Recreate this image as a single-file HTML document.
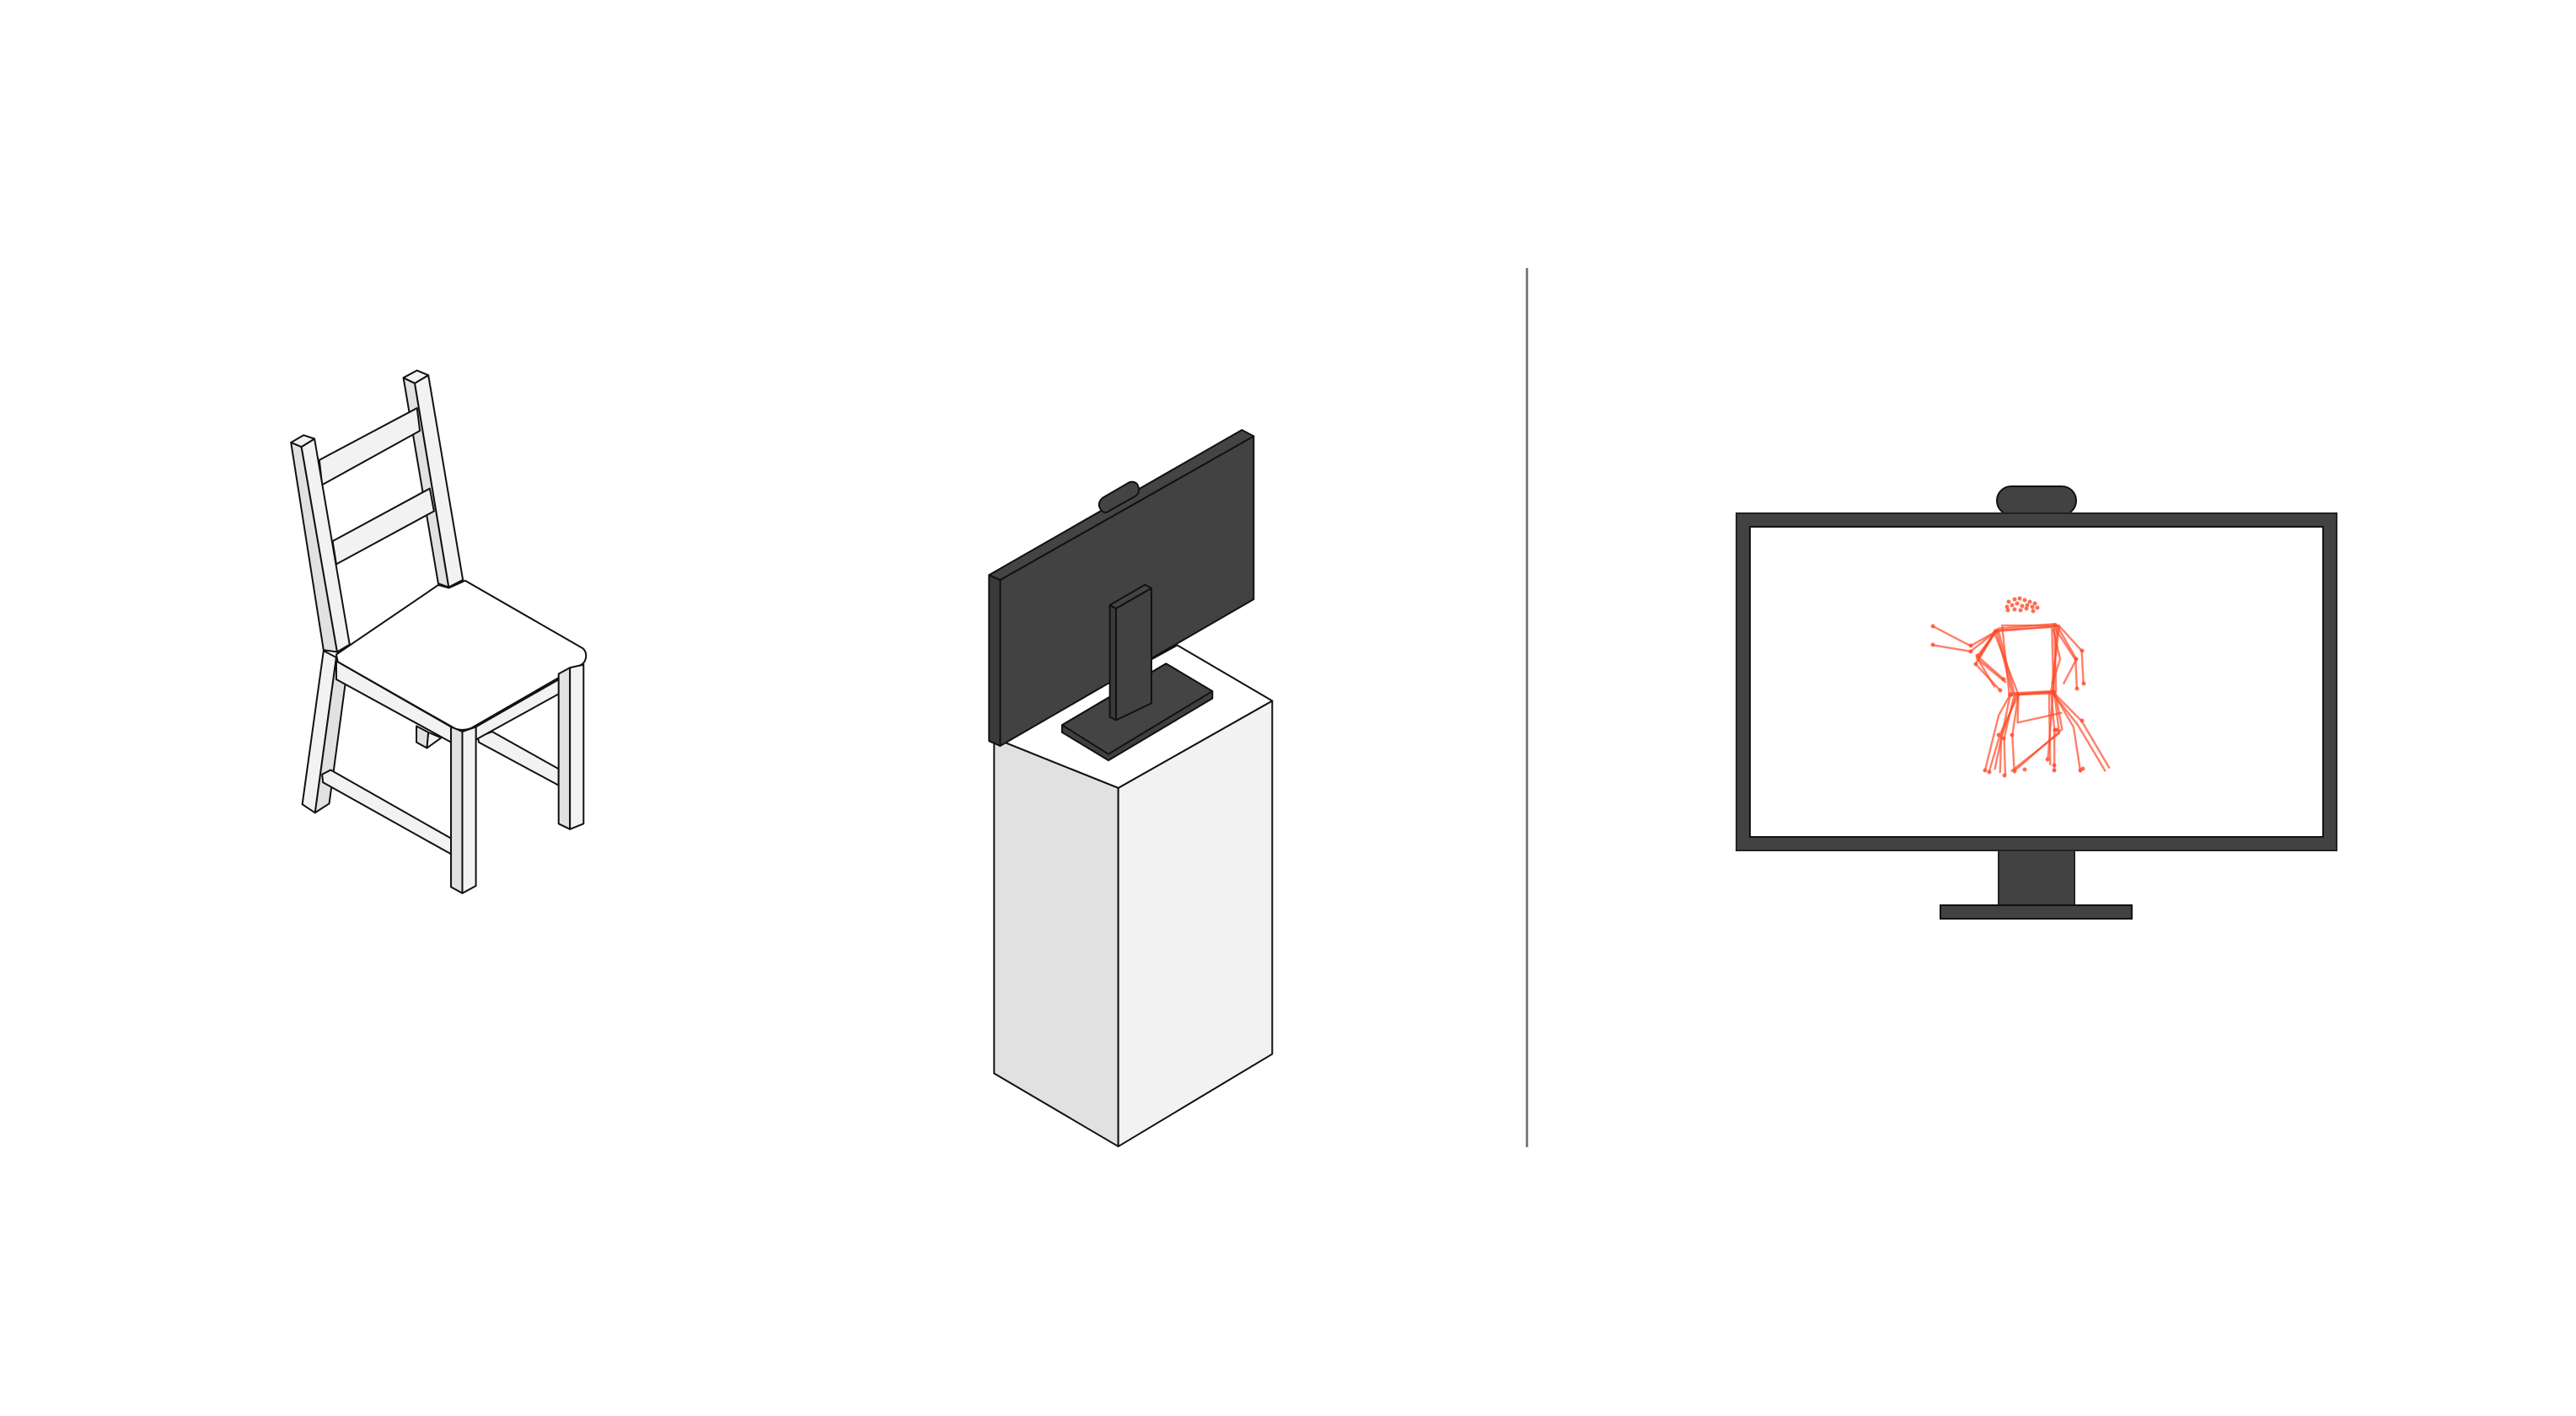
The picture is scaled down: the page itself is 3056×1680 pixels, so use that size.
<!DOCTYPE html>
<html><head><meta charset="utf-8"><style>
html,body{margin:0;padding:0;background:#fff;}
svg{display:block;}
</style></head><body>
<svg width="3056" height="1680" viewBox="0 0 3056 1680" xmlns="http://www.w3.org/2000/svg">
<rect width="3056" height="1680" fill="#fff"/>
<rect x="1810" y="318" width="3" height="1043" fill="#808080"/>

<!-- Chair -->
<g transform="translate(320,420) scale(0.336,0.4337)" stroke="#111" stroke-width="2" stroke-linejoin="round">
 <polygon points="518,1018 560,1035 555,1078 518,1062" fill="#e1e1e1" vector-effect="non-scaling-stroke"/>
 <polygon points="560,1035 605,1050 555,1078" fill="#f2f2f2" vector-effect="non-scaling-stroke"/>
 <polygon points="735,1048 785,1033 1020,1135 1020,1180 738,1062" fill="#f2f2f2" vector-effect="non-scaling-stroke"/>
 <polygon points="472,65 512,80 632,638 595,628" fill="#e1e1e1" vector-effect="non-scaling-stroke"/>
 <polygon points="512,80 560,58 682,618 632,638" fill="#f2f2f2" vector-effect="non-scaling-stroke"/>
 <polygon points="472,65 520,45 560,58 512,80" fill="#f2f2f2" vector-effect="non-scaling-stroke"/>
 <polygon points="175,290 520,148 530,210 185,358" fill="#f2f2f2" vector-effect="non-scaling-stroke"/>
 <polygon points="222,512 565,368 580,430 235,575" fill="#f2f2f2" vector-effect="non-scaling-stroke"/>
 <polygon points="75,242 112,254 238,815 190,810" fill="#e1e1e1" vector-effect="non-scaling-stroke"/>
 <polygon points="112,254 158,232 282,795 238,815" fill="#f2f2f2" vector-effect="non-scaling-stroke"/>
 <polygon points="75,242 120,222 158,232 112,254" fill="#f2f2f2" vector-effect="non-scaling-stroke"/>
 <polygon points="190,812 235,830 160,1255 115,1232" fill="#f2f2f2" vector-effect="non-scaling-stroke"/>
 <polygon points="235,830 268,895 210,1230 160,1255" fill="#e1e1e1" vector-effect="non-scaling-stroke"/>
 <polygon points="185,1150 215,1138 640,1325 640,1368 188,1172" fill="#f2f2f2" vector-effect="non-scaling-stroke"/>
 <polygon points="235,840 640,1020 640,1062 235,890" fill="#f2f2f2" vector-effect="non-scaling-stroke"/>
 <polygon points="728,1020 1055,875 1055,915 728,1055" fill="#f2f2f2" vector-effect="non-scaling-stroke"/>
 <path d="M235,822 L595,632 L632,640 L690,620 L1105,805 Q1120,815 1116,832 Q1112,845 1100,850 L710,1024 Q680,1032 655,1025 L240,842 Z" fill="#fff" vector-effect="non-scaling-stroke"/>
 <polygon points="640,1020 680,1033 680,1475 640,1458" fill="#e1e1e1" vector-effect="non-scaling-stroke"/>
 <polygon points="680,1033 728,1020 728,1455 680,1475" fill="#f2f2f2" vector-effect="non-scaling-stroke"/>
 <polygon points="1020,875 1060,858 1060,1300 1020,1285" fill="#e1e1e1" vector-effect="non-scaling-stroke"/>
 <polygon points="1060,858 1108,850 1108,1285 1060,1300" fill="#f2f2f2" vector-effect="non-scaling-stroke"/>
</g>

<!-- Pedestal + monitor -->
<g transform="translate(1150,490) scale(0.3333,0.574)" stroke="#111" stroke-linejoin="round">
 <polygon points="88,672 530,775 530,1516 88,1365" fill="#e1e1e1" stroke-width="2" vector-effect="non-scaling-stroke"/>
 <polygon points="530,775 1078,595 1078,1325 530,1516" fill="#f2f2f2" stroke-width="2" vector-effect="non-scaling-stroke"/>
 <polygon points="88,672 530,775 1078,595 740,480 300,620" fill="#fff" stroke-width="2" vector-effect="non-scaling-stroke"/>
 <polygon points="330,645 700,518 865,575 865,590 495,718 330,660" fill="#404040" stroke-width="2" vector-effect="non-scaling-stroke"/>
 <polygon points="330,645 700,518 865,575 495,705" fill="#444" stroke-width="2" vector-effect="non-scaling-stroke"/>
 <polygon points="70,335 110,345 110,688 70,678" fill="#3a3a3a" stroke-width="2" vector-effect="non-scaling-stroke"/>
 <polygon points="110,345 1012,48 1012,385 110,688" fill="#424242" stroke-width="2" vector-effect="non-scaling-stroke"/>
 <polygon points="70,335 970,35 1012,48 110,345" fill="#444" stroke-width="2" vector-effect="non-scaling-stroke"/>
 <path d="M490,205 L590,172 Q610,165 600,150 Q592,140 570,143 L475,175 Q455,185 465,197 Q475,208 490,205 Z" fill="#444" stroke-width="2" vector-effect="non-scaling-stroke"/>
 <polygon points="500,397 522,404 522,635 500,628" fill="#3a3a3a" stroke-width="2" vector-effect="non-scaling-stroke"/>
 <polygon points="522,404 648,362 648,600 522,635" fill="#424242" stroke-width="2" vector-effect="non-scaling-stroke"/>
 <polygon points="500,397 625,355 648,362 522,404" fill="#444" stroke-width="2" vector-effect="non-scaling-stroke"/>
</g>

<!-- Right monitor -->
<rect x="2369" y="577" width="94" height="34" rx="17" fill="#424242" stroke="#111" stroke-width="2"/>
<rect x="2060" y="609" width="712" height="400" fill="#424242" stroke="#222" stroke-width="2"/>
<rect x="2076" y="625" width="680" height="368" fill="#fff" stroke="#111" stroke-width="2"/>
<rect x="2371" y="1009" width="90" height="65" fill="#424242" stroke="#222" stroke-width="2"/>
<rect x="2302" y="1074" width="227" height="16" fill="#424242" stroke="#111" stroke-width="2"/>

<!-- skeleton -->
<g transform="translate(2060,560) scale(0.4848,0.357)" fill="none" stroke="#ff4a2a" stroke-opacity="0.7" stroke-width="2.4" stroke-linejoin="round">
 <polygon points="630,530 785,512 775,735 690,740" vector-effect="non-scaling-stroke"/>
 <polygon points="650,510 790,510 770,732 668,742" vector-effect="non-scaling-stroke"/>
 <polygon points="640,520 778,505 782,730 680,738" vector-effect="non-scaling-stroke"/>
 <polygon points="636,526 772,515 776,728 675,735" vector-effect="non-scaling-stroke"/>
 <polyline points="635,530 590,612 655,690" vector-effect="non-scaling-stroke"/>
 <polyline points="635,530 585,638 645,725" vector-effect="non-scaling-stroke"/>
 <polyline points="632,528 592,625 632,715" vector-effect="non-scaling-stroke"/>
 <polyline points="638,524 588,620 660,700" vector-effect="non-scaling-stroke"/>
 <polyline points="635,530 573,578 480,512" vector-effect="non-scaling-stroke"/>
 <polyline points="635,530 573,596 480,575" vector-effect="non-scaling-stroke"/>
 <polyline points="785,512 832,622 800,705" vector-effect="non-scaling-stroke"/>
 <polyline points="790,512 845,594 849,703" vector-effect="non-scaling-stroke"/>
 <polyline points="780,520 830,625 833,720" vector-effect="non-scaling-stroke"/>
 <polyline points="775,520 792,622 773,705" vector-effect="non-scaling-stroke"/>
 <polyline points="670,740 642,808 608,993" vector-effect="non-scaling-stroke"/>
 <polyline points="690,740 645,872 618,998" vector-effect="non-scaling-stroke"/>
 <polyline points="680,740 655,885 658,1008" vector-effect="non-scaling-stroke"/>
 <polyline points="690,740 675,875 680,995" vector-effect="non-scaling-stroke"/>
 <polyline points="670,740 632,990" vector-effect="non-scaling-stroke"/>
 <polyline points="685,742 648,880 645,1000" vector-effect="non-scaling-stroke"/>
 <polyline points="775,732 845,828 913,985" vector-effect="non-scaling-stroke"/>
 <polyline points="772,732 835,840 903,995" vector-effect="non-scaling-stroke"/>
 <polyline points="775,732 825,848 842,998" vector-effect="non-scaling-stroke"/>
 <polyline points="770,732 778,858 778,992" vector-effect="non-scaling-stroke"/>
 <polyline points="775,732 762,955" vector-effect="non-scaling-stroke"/>
 <polyline points="765,735 768,975" vector-effect="non-scaling-stroke"/>
 <polyline points="780,732 797,855 683,990" vector-effect="non-scaling-stroke"/>
 <polyline points="778,735 790,868 672,995" vector-effect="non-scaling-stroke"/>
 <polyline points="690,740 688,833 797,800" vector-effect="non-scaling-stroke"/>
</g>
<g fill="#ff4a2a" fill-opacity="0.8">
 <circle cx="2383" cy="714" r="2.5"/><circle cx="2390" cy="711" r="2.5"/><circle cx="2396" cy="710" r="2.5"/><circle cx="2402" cy="712" r="2.5"/><circle cx="2408" cy="714" r="2.5"/><circle cx="2414" cy="716" r="2.5"/>
 <circle cx="2381" cy="720" r="2.5"/><circle cx="2387" cy="718" r="2.5"/><circle cx="2393" cy="716" r="2.5"/><circle cx="2399" cy="719" r="2.5"/><circle cx="2405" cy="718" r="2.5"/><circle cx="2411" cy="720" r="2.5"/><circle cx="2417" cy="721" r="2.5"/>
 <circle cx="2382" cy="724" r="2.5"/><circle cx="2390" cy="723" r="2.5"/><circle cx="2397" cy="724" r="2.5"/><circle cx="2404" cy="722" r="2.5"/><circle cx="2412" cy="725" r="2.5"/>
 <circle cx="2368" cy="749" r="3"/><circle cx="2438" cy="742" r="3"/><circle cx="2385" cy="824" r="3"/><circle cx="2436" cy="821" r="3"/>
 <circle cx="2293" cy="743" r="2.5"/><circle cx="2293" cy="765" r="2.5"/><circle cx="2338" cy="766" r="2.5"/><circle cx="2338" cy="773" r="2.5"/>
 <circle cx="2346" cy="778" r="2.5"/><circle cx="2344" cy="788" r="2.5"/><circle cx="2377" cy="806" r="2.5"/><circle cx="2373" cy="819" r="2.5"/>
 <circle cx="2470" cy="772" r="2.5"/><circle cx="2463" cy="782" r="2.5"/><circle cx="2472" cy="811" r="2.5"/><circle cx="2464" cy="817" r="2.5"/>
 <circle cx="2470" cy="855" r="2.5"/><circle cx="2440" cy="866" r="2.5"/><circle cx="2471" cy="912" r="2.5"/><circle cx="2402" cy="913" r="2.5"/>
 <circle cx="2355" cy="914" r="2.5"/><circle cx="2360" cy="916" r="2.5"/><circle cx="2378" cy="920" r="2.5"/><circle cx="2390" cy="915" r="2.5"/>
 <circle cx="2468" cy="914" r="2.5"/><circle cx="2437" cy="914" r="2.5"/><circle cx="2437" cy="908" r="2.5"/><circle cx="2429" cy="901" r="2.5"/>
 <circle cx="2371" cy="872" r="2.5"/><circle cx="2377" cy="876" r="2.5"/><circle cx="2387" cy="872" r="2.5"/><circle cx="2438" cy="866" r="2.5"/>
</g>
</svg>
</body></html>
